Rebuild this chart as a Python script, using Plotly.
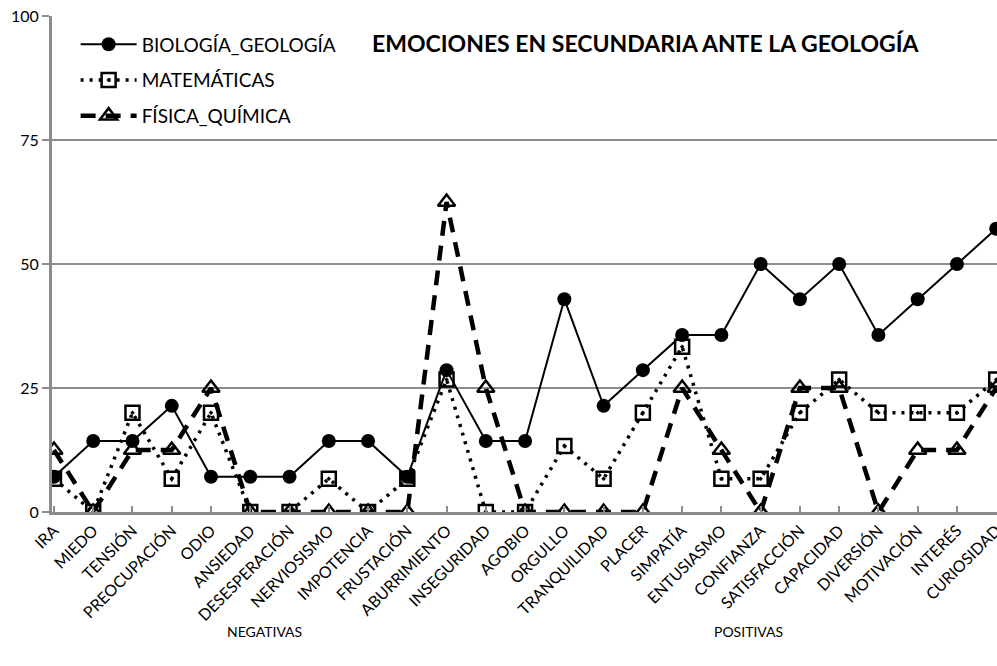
import plotly.graph_objects as go

categories = ["IRA", "MIEDO", "TENSIÓN", "PREOCUPACIÓN", "ODIO", "ANSIEDAD",
              "DESESPERACIÓN", "NERVIOSISMO", "IMPOTENCIA", "FRUSTACIÓN",
              "ABURRIMIENTO", "INSEGURIDAD", "AGOBIO", "ORGULLO", "TRANQUILIDAD",
              "PLACER", "SIMPATÍA", "ENTUSIASMO", "CONFIANZA", "SATISFACCIÓN",
              "CAPACIDAD", "DIVERSIÓN", "MOTIVACIÓN", "INTERÉS", "CURIOSIDAD"]

biologia_geologia = [7.1, 14.3, 14.3, 21.4, 7.1, 7.1, 7.1, 14.3, 14.3, 7.1,
                     28.6, 14.3, 14.3, 42.9, 21.4, 28.6, 35.7, 35.7, 50.0, 42.9,
                     50.0, 35.7, 42.9, 50.0, 57.1]
matematicas = [6.7, 0, 20.0, 6.7, 20.0, 0, 0, 6.7, 0, 6.7,
               26.7, 0, 0, 13.3, 6.7, 20.0, 33.3, 6.7, 6.7, 20.0,
               26.7, 20.0, 20.0, 20.0, 26.7]
fisica_quimica = [12.5, 0, 12.5, 12.5, 25.0, 0, 0, 0, 0, 0,
                  62.5, 25.0, 0, 0, 0, 0, 25.0, 12.5, 0, 25.0,
                  25.0, 0, 12.5, 12.5, 25.0]

FONT = "Lato"

fig = go.Figure()
fig.add_trace(go.Scatter(
    x=categories, y=biologia_geologia, name="BIOLOGÍA_GEOLOGÍA", mode="lines+markers",
    legendgroup="a",
    line=dict(color="black", width=2),
    marker=dict(symbol="circle", size=14, color="black")))
fig.add_trace(go.Scatter(
    x=categories, y=matematicas, name="MATEMÁTICAS", mode="lines+markers",
    legendgroup="b",
    line=dict(color="black", width=3.5, dash="3px,6px"),
    marker=dict(symbol="square-open-dot", size=14, color="black",
                line=dict(color="black", width=2.5))))
fig.add_trace(go.Scatter(
    x=categories, y=fisica_quimica, name="FÍSICA_QUÍMICA", mode="lines+markers",
    legendgroup="c",
    line=dict(color="black", width=4.5, dash="15px,10px"),
    marker=dict(symbol="triangle-up-open", size=15, color="black",
                line=dict(color="black", width=2.5))))

fig.update_layout(
    width=997, height=666,
    margin=dict(l=52, r=0, t=16, b=154),
    paper_bgcolor="white", plot_bgcolor="white",
    font=dict(family=FONT, color="black"),
    showlegend=True,
    legend=dict(x=0.025, y=0.981, xanchor="left", yanchor="top",
                bgcolor="rgba(0,0,0,0)", font=dict(size=19, family=FONT),
                tracegroupgap=8, itemwidth=56),
    annotations=[
        dict(text="<b>EMOCIONES EN SECUNDARIA ANTE LA GEOLOGÍA</b>",
             x=(370 - 52) / 945, y=(512 - 43) / 496, xref="paper", yref="paper",
             xanchor="left", yanchor="middle", showarrow=False,
             font=dict(size=23, family=FONT)),
        dict(text="NEGATIVAS", x=(264 - 52) / 945, y=-(631 - 512) / 496,
             xref="paper", yref="paper", xanchor="center", yanchor="middle",
             showarrow=False, font=dict(size=14, family=FONT)),
        dict(text="POSITIVAS", x=(748 - 52) / 945, y=-(631 - 512) / 496,
             xref="paper", yref="paper", xanchor="center", yanchor="middle",
             showarrow=False, font=dict(size=14, family=FONT)),
    ],
)
fig.update_xaxes(
    type="category", range=[-0.05, 24.02], automargin=False,
    showline=True, linecolor="#8c8c8c", linewidth=3,
    ticks="inside", ticklen=6, tickcolor="#8c8c8c", tickwidth=2,
    tickangle=-45, tickfont=dict(size=16, family=FONT),
    showgrid=False, zeroline=False)
fig.update_yaxes(
    range=[0, 100], tickvals=[0, 25, 50, 75, 100], automargin=False,
    showline=True, linecolor="#8c8c8c", linewidth=3,
    ticks="outside", ticklen=7, tickcolor="#8c8c8c", tickwidth=2,
    tickfont=dict(size=16, family=FONT),
    showgrid=True, gridcolor="#8c8c8c", gridwidth=2, zeroline=False)

fig.write_html("out.html", config={"displayModeBar": False},
               post_script="document.body.style.margin='0';document.body.style.overflow='hidden';")
